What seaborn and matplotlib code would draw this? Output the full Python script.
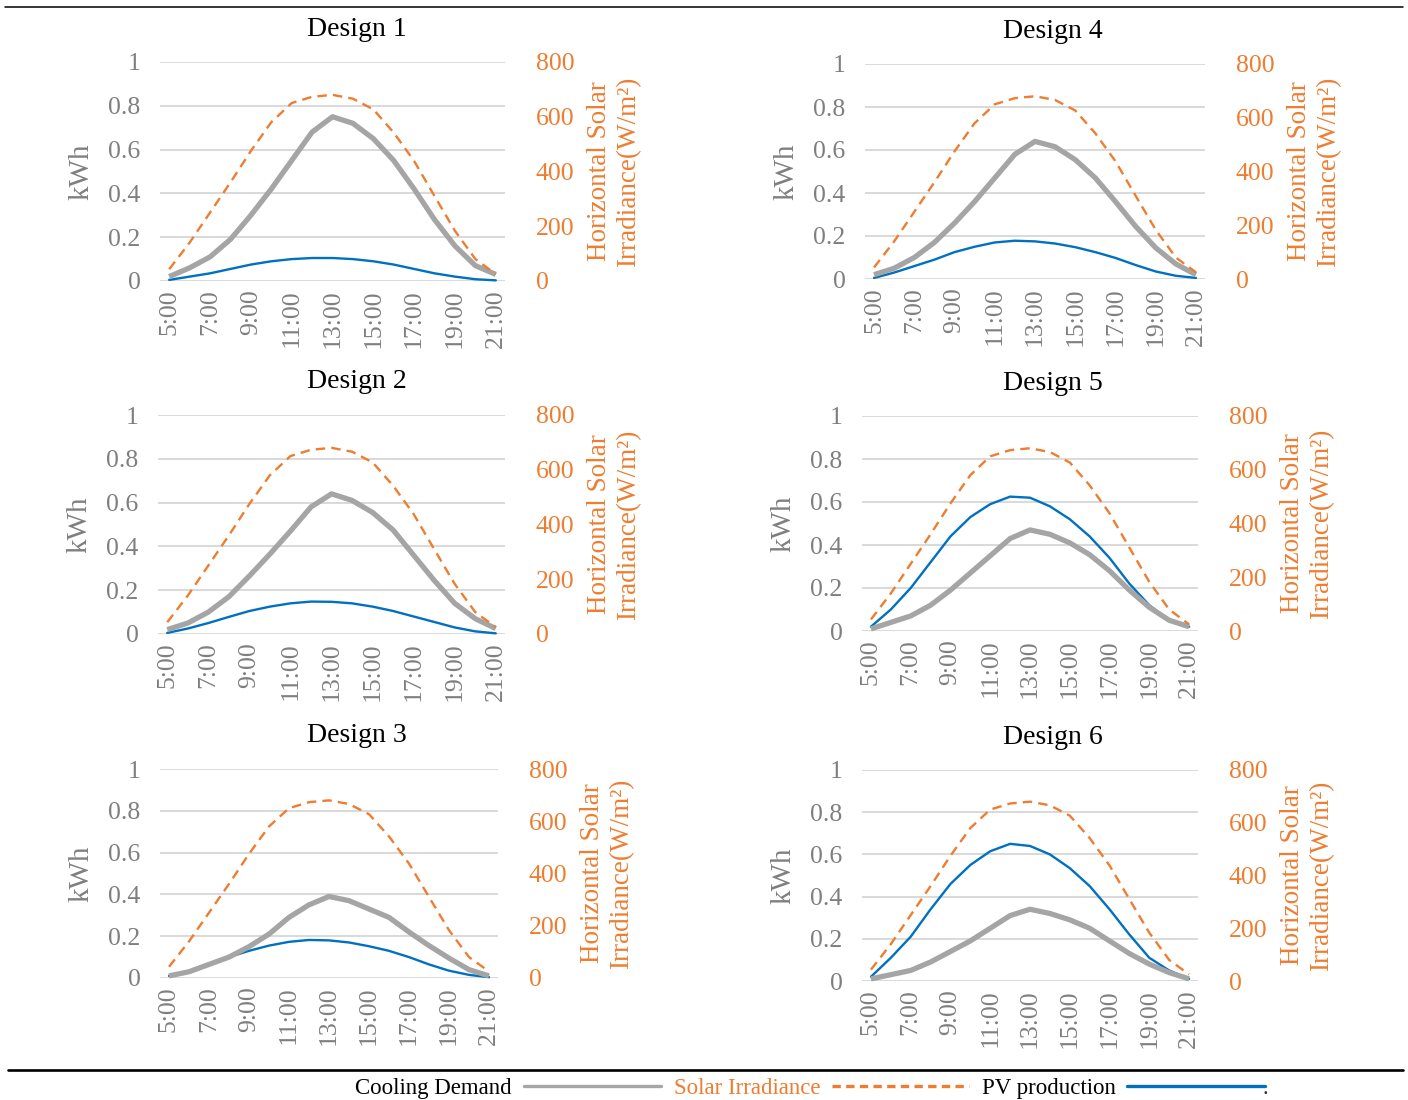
import numpy as np
import pandas as pd
import matplotlib
matplotlib.use("Agg")
import matplotlib.pyplot as plt
from matplotlib.lines import Line2D
import seaborn as sns

# ---------------- data ----------------
hours = ["5:00", "6:00", "7:00", "8:00", "9:00", "10:00", "11:00", "12:00", "13:00",
         "14:00", "15:00", "16:00", "17:00", "18:00", "19:00", "20:00", "21:00"]
tick_labels = ["5:00", "7:00", "9:00", "11:00", "13:00", "15:00", "17:00", "19:00", "21:00"]

solar = [43, 140, 250, 360, 475, 580, 650, 673, 680, 666, 627, 542, 438, 310, 183, 80, 25]

cool_d1 = [0.02, 0.06, 0.11, 0.19, 0.30, 0.42, 0.55, 0.68, 0.75, 0.72, 0.65, 0.55, 0.42, 0.28, 0.16, 0.07, 0.03]
pv_d1 = [0.005, 0.02, 0.035, 0.055, 0.075, 0.09, 0.10, 0.105, 0.105, 0.10, 0.09, 0.075, 0.055, 0.035, 0.02, 0.008, 0.003]

cool_d2 = [0.02, 0.05, 0.10, 0.17, 0.265, 0.365, 0.47, 0.58, 0.64, 0.61, 0.555, 0.475, 0.36, 0.245, 0.14, 0.07, 0.025]
pv_d2 = [0.005, 0.025, 0.05, 0.078, 0.105, 0.125, 0.14, 0.148, 0.147, 0.14, 0.125, 0.105, 0.08, 0.055, 0.03, 0.012, 0.003]

cool_d3 = [0.01, 0.03, 0.065, 0.10, 0.15, 0.21, 0.29, 0.35, 0.39, 0.37, 0.33, 0.29, 0.22, 0.155, 0.095, 0.04, 0.01]
pv_d3 = [0.01, 0.03, 0.065, 0.10, 0.13, 0.155, 0.173, 0.182, 0.18, 0.17, 0.152, 0.13, 0.10, 0.065, 0.035, 0.015, 0.004]

cool_d4 = [0.02, 0.05, 0.10, 0.17, 0.26, 0.36, 0.47, 0.58, 0.64, 0.615, 0.555, 0.47, 0.36, 0.245, 0.145, 0.07, 0.02]
pv_d4 = [0.005, 0.03, 0.06, 0.09, 0.125, 0.15, 0.17, 0.178, 0.175, 0.165, 0.148, 0.125, 0.098, 0.065, 0.035, 0.015, 0.005]

cool_d5 = [0.01, 0.04, 0.07, 0.12, 0.19, 0.27, 0.35, 0.43, 0.47, 0.45, 0.41, 0.355, 0.28, 0.19, 0.11, 0.05, 0.02]
pv_d5 = [0.02, 0.10, 0.20, 0.32, 0.44, 0.53, 0.59, 0.625, 0.62, 0.58, 0.52, 0.44, 0.34, 0.22, 0.12, 0.05, 0.02]

cool_d6 = [0.01, 0.03, 0.05, 0.09, 0.14, 0.19, 0.25, 0.31, 0.34, 0.32, 0.29, 0.25, 0.19, 0.13, 0.08, 0.04, 0.01]
pv_d6 = [0.02, 0.11, 0.21, 0.34, 0.46, 0.55, 0.615, 0.65, 0.64, 0.60, 0.535, 0.45, 0.34, 0.22, 0.11, 0.05, 0.01]

titles = ["Design 1", "Design 2", "Design 3", "Design 4", "Design 5", "Design 6"]
coolings = [cool_d1, cool_d2, cool_d3, cool_d4, cool_d5, cool_d6]
pvs = [pv_d1, pv_d2, pv_d3, pv_d4, pv_d5, pv_d6]

left_ticks = [0, 0.2, 0.4, 0.6, 0.8, 1]
left_tick_labels = ["0", "0.2", "0.4", "0.6", "0.8", "1"]
right_ticks = [0, 200, 400, 600, 800]
right_tick_labels = ["0", "200", "400", "600", "800"]

# ---------------- style ----------------
sns.set_theme(style="white")
plt.rcParams["font.family"] = ["Liberation Serif", "DejaVu Serif"]

GRAY_LINE = "#A5A5A5"
GRAY_TXT = "#7F7F7F"
ORANGE = "#ED7D31"
BLUE = "#0070C0"
GRID = "#D9D9D9"

W, H = 1408, 1100
fig = plt.figure(figsize=(W / 100, H / 100), dpi=100)

# panel pixel boxes: (left, right, top, bottom)
boxes = [
    (160, 505, 62, 281),
    (158, 505, 415, 634),
    (160, 498, 769, 978),
    (865, 1205, 64, 279),
    (862, 1198, 416, 631),
    (862, 1198, 770, 981),
]
title_x = [357, 357, 357, 1053, 1053, 1053]

x = np.arange(len(hours))
tick_pos = x[::2]

for i, (l, r, t, b) in enumerate(boxes):
    ax = fig.add_axes([l / W, 1 - b / H, (r - l) / W, (b - t) / H])
    ax2 = ax.twinx()

    df = pd.DataFrame({"hour": x, "cool": coolings[i], "pv": pvs[i], "solar": solar})
    sns.lineplot(data=df, x="hour", y="pv", ax=ax, color=BLUE, lw=1.7, clip_on=False, zorder=2)
    sns.lineplot(data=df, x="hour", y="cool", ax=ax, color=GRAY_LINE, lw=3.8, clip_on=False, zorder=3,
                 solid_capstyle="butt")
    sns.lineplot(data=df, x="hour", y="solar", ax=ax2, color=ORANGE, lw=1.7, clip_on=False,
                 linestyle=(0, (4, 2.6)))

    ax.set_xlim(-0.45, len(hours) - 1 + 0.45)
    ax.set_ylim(0, 1)
    ax2.set_ylim(0, 800)

    ax.set_yticks(left_ticks)
    ax.set_yticklabels(left_tick_labels)
    ax2.set_yticks(right_ticks)
    ax2.set_yticklabels(right_tick_labels)
    ax.set_xticks(tick_pos)
    ax.set_xticklabels(tick_labels, rotation=90)

    ax.grid(axis="y", color=GRID, lw=1.4)
    ax.grid(axis="x", visible=False)
    ax2.grid(False)
    ax.set_axisbelow(True)
    for a in (ax, ax2):
        for s in a.spines.values():
            s.set_visible(False)

    ax.tick_params(axis="y", length=0, pad=14, labelsize=18.5, labelcolor=GRAY_TXT)
    ax.tick_params(axis="x", length=0, pad=6, labelsize=18.5, labelcolor=GRAY_TXT)
    ax2.tick_params(axis="y", length=0, pad=22, labelsize=18.5, labelcolor=ORANGE)

    ax.set_xlabel("")
    ax.set_ylabel("kWh", fontsize=21, color=GRAY_TXT)
    ax.yaxis.set_label_coords(-66 / (r - l), 0.5)
    ax2.set_ylabel("Horizontal Solar\nIrradiance(W/m²)", fontsize=19.5, color=ORANGE, linespacing=1.2)
    ax2.yaxis.set_label_coords(1 + 82 / (r - l), 0.5)

    fig.text(title_x[i] / W, 1 - (t - 33) / H, titles[i], ha="center", va="center",
             fontsize=20, color="black")

# rules
fig.add_artist(Line2D([5 / W, 1403 / W], [1 - 7 / H, 1 - 7 / H], color="black", lw=1.1,
                      transform=fig.transFigure))
fig.add_artist(Line2D([8 / W, 1403 / W], [1 - 1070 / H, 1 - 1070 / H], color="black", lw=1.9,
                      transform=fig.transFigure))

# legend (text first, then handle)
handles = [
    Line2D([], [], color=GRAY_LINE, lw=2.4),
    Line2D([], [], color=ORANGE, lw=2.4, linestyle=(0, (2.5, 1.6))),
    Line2D([], [], color=BLUE, lw=2.4),
]
labels = ["Cooling Demand", "Solar Irradiance", "PV production"]
fig.legend(handles, labels, loc="center", bbox_to_anchor=(810 / W, 1 - 1088 / H), ncol=3,
           frameon=False, markerfirst=False, fontsize=16.5, handlelength=6.0,
           handletextpad=0.5, columnspacing=0.55, labelcolor=["black", ORANGE, "black"])
fig.text(1265 / W, 1 - 1090 / H, ".", fontsize=16, ha="center", va="center")

fig.savefig("out.png", dpi=100)
